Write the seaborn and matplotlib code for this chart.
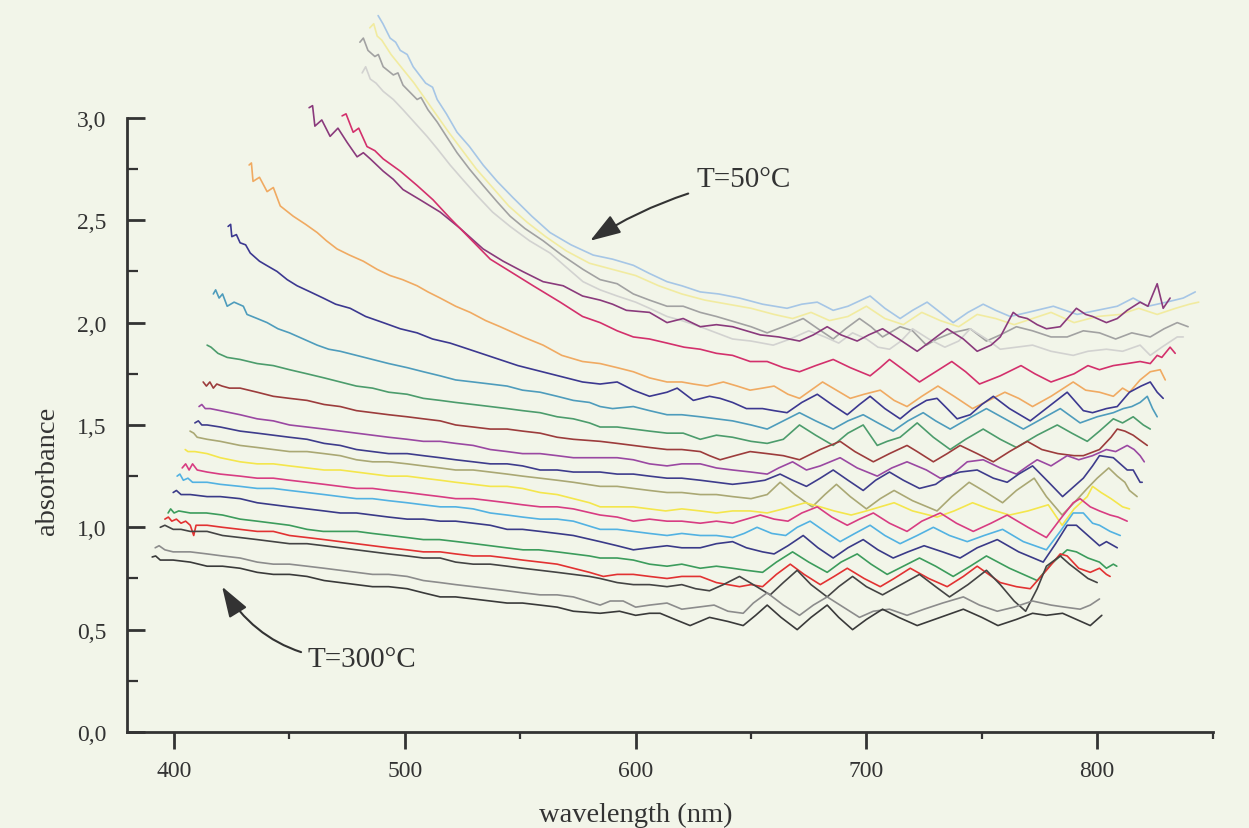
import pandas as pd
import matplotlib
matplotlib.use("Agg")
import matplotlib.pyplot as plt
from matplotlib.ticker import FuncFormatter
import seaborn as sns

sns.set_style("ticks")
plt.rcParams["font.family"] = ["Liberation Serif", "DejaVu Serif"]

# spectra, (wavelength nm, absorbance), T=50°C at top -> T=300°C at bottom
t01 = [(488.4,3.50),(490.5,3.46),(493.6,3.39),(496,3.37),(498,3.33),(501,3.31),(503.6,3.25),(509,3.17),
       (512,3.15),(514,3.09),(518,3.02),(522.6,2.93),(528,2.86),(533.9,2.77),(540,2.69),(546.9,2.61),
       (555,2.52),(562.9,2.44),(572,2.38),(581.6,2.33),(590,2.31),(599,2.28),(606,2.24),(613.6,2.20),
       (620,2.18),(628,2.15),(636,2.14),(645,2.12),(655,2.09),(665.6,2.07),(672,2.09),(678.7,2.10),
       (685.6,2.06),(692,2.08),(701.6,2.13),(708,2.07),(714.6,2.02),(720,2.06),(726.3,2.10),(732,2.05),
       (737.6,2.00),(744,2.05),(750.6,2.09),(756,2.06),(762.3,2.03),(770,2.05),(781,2.08),(791.3,2.04),
       (800,2.06),(808.7,2.08),(815.6,2.12),(822,2.08),(830,2.10),(837.3,2.12),(842.5,2.15)]
t02 = [(484.8,3.44),(486.5,3.46),(488,3.40),(490,3.38),(494,3.31),(499,3.24),(504,3.17),(509,3.09),(514,3.01),
       (519,2.93),(525,2.84),(531,2.75),(538,2.66),(545,2.57),(553,2.49),(561,2.42),(570,2.35),(580,2.29),
       (590,2.26),(600,2.23),(610,2.18),(620,2.14),(630,2.11),(640,2.09),(650,2.07),(660,2.04),(668,2.02),
       (676,2.05),(684,2.01),(692,2.03),(700,2.08),(708,2.02),(716,1.99),(724,2.05),(732,2.01),(740,1.98),
       (748,2.04),(756,2.02),(764,1.99),(772,2.02),(780,2.05),(790,2.00),(800,2.03),(810,2.04),(818,2.07),
       (826,2.04),(834,2.07),(840,2.09),(844,2.10)]
t03 = [(480.5,3.37),(482,3.39),(484,3.33),(487,3.30),(488.5,3.31),(490.6,3.25),(495,3.21),(497,3.22),
       (499.2,3.16),(505.3,3.09),(507,3.10),(510,3.04),(514,2.98),(518,2.91),(522.6,2.83),(528,2.75),
       (533.9,2.67),(540,2.59),(545.6,2.52),(552,2.46),(559.9,2.40),(568,2.33),(577.2,2.26),(584.6,2.21),
       (592,2.19),(599,2.14),(606,2.11),(613.6,2.08),(620.6,2.08),(628,2.05),(635,2.03),(644,2.00),(650,1.98),
       (657,1.95),(664,1.98),(672.6,2.02),(679,1.97),(685.6,1.92),(691,1.97),(697,2.02),(702,1.98),(707,1.93),
       (714.6,1.98),(720,1.96),(726,1.89),(730.6,1.92),(737,1.95),(745,1.97),(752,1.91),(758,1.94),(765,1.98),
       (772,1.96),(780,1.93),(787,1.93),(794,1.96),(801,1.95),(808,1.92),(815,1.95),(823,1.93),(829,1.97),
       (834.7,2.00),(839.4,1.98)]
t04 = [(481.5,3.22),(483,3.25),(485,3.19),(487.5,3.17),(490.6,3.13),(495,3.09),(499.2,3.04),(504,2.98),
       (509.6,2.91),(514,2.85),(519.6,2.77),(525,2.70),(531.3,2.62),(538,2.54),(545.6,2.47),(554,2.40),
       (562.9,2.34),(570,2.27),(577.2,2.20),(584.6,2.16),(592,2.13),(600,2.10),(606,2.07),(613.6,2.03),
       (620,2.01),(628,1.98),(635,1.95),(642,1.92),(650,1.91),(659.6,1.89),(667,1.92),(675,1.96),(682,1.93),
       (688,1.90),(694,1.95),(700,1.92),(705,1.88),(710,1.87),(715,1.91),(720,1.97),(727,1.92),(734,1.88),
       (740,1.91),(745,1.97),(752,1.92),(758,1.87),(765,1.88),(772,1.89),(780,1.86),(789.6,1.84),(796,1.86),
       (804,1.87),(811,1.86),(818.6,1.89),(823,1.84),(828,1.88),(834.7,1.93),(837.3,1.93)]
t05 = [(458.5,3.05),(460,3.06),(461,2.96),(464,2.99),(467.6,2.91),(471,2.95),(475,2.88),(479.3,2.81),
       (482,2.83),(485,2.80),(490.6,2.74),(495,2.70),(499.2,2.65),(506.6,2.60),(515.3,2.54),(524,2.46),
       (533.9,2.36),(542.6,2.30),(551,2.25),(559.9,2.20),(568.6,2.18),(577,2.13),(584.6,2.11),(590,2.09),
       (596,2.06),(606,2.05),(613.6,2.00),(620.6,2.02),(628,1.98),(635,1.99),(642,1.98),(648,1.96),(654,1.94),
       (662,1.93),(671,1.91),(677,1.94),(683,1.98),(689,1.94),(696,1.91),(701,1.94),(707,1.97),(714,1.92),
       (722,1.86),(728,1.91),(735,1.97),(742,1.92),(748,1.86),(754,1.89),(758,1.93),(763.6,2.05),(766,2.03),
       (769.7,2.02),(774,1.99),(778,1.97),(784,1.98),(791,2.07),(795,2.04),(798,2.03),(804,2.00),(808.7,2.02),
       (813,2.06),(818.6,2.10),(822,2.08),(826,2.19),(828.6,2.07),(831.6,2.12)]
t06 = [(472.8,3.01),(474.5,3.02),(477.6,2.93),(480,2.95),(483.6,2.86),(487,2.84),(490.6,2.80),(498,2.74),
       (505.3,2.67),(512.2,2.60),(519.6,2.51),(528.3,2.41),(537,2.31),(545.6,2.25),(555.6,2.18),(567.3,2.10),
       (577,2.03),(584.6,2.00),(592,1.96),(599,1.93),(606,1.92),(613.6,1.90),(621,1.88),(628,1.87),(635,1.85),
       (642,1.84),(649.6,1.81),(657,1.81),(664,1.78),(671,1.76),(678,1.79),(685.6,1.82),(693,1.78),
       (701.6,1.74),(706,1.78),(710,1.82),(716,1.77),(723,1.71),(730,1.76),(737,1.81),(743,1.76),(749,1.70),
       (758,1.74),(767,1.79),(773,1.75),(780,1.71),(785,1.73),(790,1.75),(796,1.79),(801,1.77),(807,1.79),
       (813,1.80),(818.6,1.81),(823,1.80),(826,1.84),(828,1.83),(831.6,1.88),(833.8,1.85)]
t07 = [(432.5,2.77),(433.5,2.78),(434.2,2.69),(437,2.71),(440.3,2.64),(443,2.66),(446,2.57),(451.6,2.52),
       (457,2.48),(462,2.44),(466,2.40),(470.6,2.36),(476,2.33),(482,2.30),(488,2.26),(493.6,2.23),(499,2.21),
       (505.3,2.18),(510,2.15),(515.3,2.12),(522,2.08),(528.3,2.05),(535,2.01),(541.3,1.98),(551.2,1.93),
       (559.9,1.89),(568,1.84),(577,1.81),(584.6,1.80),(592,1.78),(599,1.76),(606,1.73),(613.6,1.71),
       (620,1.71),(625,1.70),(631,1.69),(638,1.71),(644,1.69),(649.6,1.67),(655,1.68),(660,1.69),(666,1.65),
       (671,1.63),(676,1.67),(681,1.71),(687,1.67),(693,1.63),(699,1.65),(706,1.67),(712,1.62),(717.6,1.59),
       (724,1.64),(731,1.69),(738,1.64),(746,1.58),(753,1.62),(760,1.66),(766,1.63),(772,1.59),(780,1.64),
       (789.6,1.71),(795,1.67),(801,1.66),(807,1.64),(811,1.68),(814,1.66),(818.6,1.72),(823,1.76),
       (827.3,1.77),(829.5,1.72)]
t08 = [(423.4,2.47),(424.5,2.48),(425,2.42),(427,2.43),(428.6,2.39),(431,2.38),(433,2.34),(437,2.30),
       (440,2.28),(444.6,2.25),(449,2.21),(453.3,2.18),(459,2.15),(464.6,2.12),(470,2.09),(476.3,2.07),
       (483,2.03),(490.6,2.00),(498,1.97),(505.3,1.95),(512,1.92),(519.6,1.90),(525,1.88),(533,1.85),
       (541,1.82),(549,1.79),(556,1.77),(563,1.75),(570,1.73),(577,1.71),(584.6,1.70),(592,1.71),(599,1.67),
       (606,1.64),(613.6,1.66),(618,1.68),(625,1.62),(632,1.64),(636.6,1.63),(642,1.61),(648,1.58),(655,1.58),
       (660,1.57),(665.6,1.56),(672,1.61),(678.7,1.65),(685,1.60),(691.7,1.55),(697,1.60),(701.6,1.64),
       (708,1.58),(714.6,1.53),(720,1.58),(726,1.62),(730.6,1.63),(735,1.58),(739.3,1.53),(745,1.55),
       (750,1.60),(755,1.64),(762,1.58),(771,1.52),(779,1.59),(787,1.66),(794,1.57),(798,1.56),(804,1.58),
       (808.7,1.59),(814,1.66),(819,1.69),(823,1.71),(826,1.66),(828.6,1.63)]
t09 = [(417,2.14),(418,2.16),(419.5,2.12),(421,2.14),(423,2.08),(426,2.10),(430,2.08),(431.6,2.04),(436,2.02),
       (440.3,2.00),(445,1.97),(450,1.95),(456,1.92),(462,1.89),(467,1.87),(472,1.86),(479,1.84),(486,1.82),
       (493,1.80),(501,1.78),(508,1.76),(515.3,1.74),(522,1.72),(529.6,1.71),(537,1.70),(544.3,1.69),
       (551,1.67),(558.6,1.66),(566,1.64),(573,1.62),(580,1.61),(584.6,1.59),(590,1.58),(599,1.59),(606,1.57),
       (613.6,1.55),(620,1.55),(628,1.54),(635,1.53),(642,1.52),(650,1.50),(657,1.48),(664,1.52),(671,1.56),
       (678,1.52),(685.6,1.48),(692,1.52),(698.6,1.55),(705,1.51),(711.6,1.47),(718,1.52),(724.6,1.56),
       (730,1.52),(736.3,1.48),(744,1.53),(752,1.58),(760,1.53),(768,1.48),(776,1.53),(784,1.58),(792.6,1.51),
       (800,1.54),(807,1.56),(811.3,1.58),(815,1.59),(818.6,1.61),(821.7,1.64),(824,1.58),(826,1.54)]
t10 = [(414.3,1.89),(416,1.88),(419,1.85),(423,1.83),(428.6,1.82),(436,1.80),(443,1.79),(450,1.77),
       (457.6,1.75),(465,1.73),(472,1.71),(479,1.69),(486,1.68),(493,1.66),(501,1.65),(508,1.63),(515.3,1.62),
       (522,1.61),(529.6,1.60),(537,1.59),(544.3,1.58),(551,1.57),(558.6,1.56),(566,1.54),(573,1.53),
       (580,1.51),(584.6,1.49),(592,1.49),(599,1.48),(606,1.47),(613.6,1.46),(620.6,1.46),(628,1.43),
       (635,1.45),(642,1.44),(650,1.42),(657,1.41),(664,1.43),(671,1.50),(678,1.45),(685.6,1.40),(692,1.46),
       (698.6,1.50),(704.7,1.40),(709,1.42),(714.6,1.44),(722,1.51),(729,1.44),(736.3,1.38),(743,1.43),
       (750.6,1.48),(758,1.43),(765,1.39),(774,1.45),(782.7,1.50),(789,1.46),(795.7,1.42),(801,1.47),
       (807,1.53),(811,1.51),(815.6,1.54),(820,1.50),(823,1.48)]
t11 = [(412.6,1.71),(414,1.69),(415.5,1.71),(417,1.68),(418.5,1.70),(420.8,1.69),(424,1.68),(428.6,1.68),
       (436,1.66),(443,1.64),(450,1.63),(457.6,1.62),(465,1.60),(472,1.59),(479,1.57),(486,1.56),(493,1.55),
       (501,1.54),(508,1.53),(515.3,1.52),(522,1.50),(529.6,1.49),(537,1.48),(544.3,1.48),(551,1.47),
       (558.6,1.46),(566,1.44),(573,1.43),(584.6,1.42),(592,1.41),(599,1.40),(606,1.39),(613.6,1.38),
       (620,1.38),(628,1.37),(632,1.35),(636.6,1.33),(643,1.35),(649.6,1.37),(657,1.36),(664,1.35),(671,1.33),
       (680,1.38),(688.6,1.42),(695,1.37),(703,1.32),(710,1.36),(717.6,1.40),(722,1.37),(729,1.32),(735,1.36),
       (740.6,1.40),(748,1.36),(755,1.32),(762,1.37),(769.7,1.42),(776,1.38),(783,1.36),(790,1.35),(794,1.35),
       (801,1.38),(806,1.44),(808.7,1.48),(812,1.47),(815.6,1.45),(818,1.43),(821.7,1.40)]
t12 = [(410.8,1.59),(412,1.60),(413.5,1.58),(415.6,1.58),(420,1.57),(428.6,1.55),(436,1.53),(443,1.52),
       (450,1.50),(457.6,1.49),(465,1.48),(472,1.47),(479,1.46),(486,1.45),(493,1.44),(501,1.43),(508,1.42),
       (515.3,1.42),(522,1.41),(529.6,1.40),(537,1.38),(544.3,1.37),(551,1.36),(558.6,1.36),(566,1.35),
       (573,1.34),(584.6,1.34),(592,1.34),(599,1.33),(606,1.31),(613.6,1.30),(620,1.31),(628,1.31),(635,1.29),
       (642,1.28),(650,1.27),(657,1.26),(662,1.29),(668,1.32),(674,1.28),(680,1.30),(688.6,1.34),(696,1.29),
       (704.7,1.25),(711,1.29),(717.6,1.32),(726,1.28),(732,1.24),(736.3,1.25),(743.7,1.32),(750.6,1.33),
       (758,1.29),(765,1.26),(770,1.30),(774,1.33),(780,1.30),(787,1.35),(792,1.33),(798,1.35),(804,1.38),
       (808,1.37),(813,1.40),(816,1.38),(818.6,1.35),(820.4,1.32)]
t13 = [(409,1.51),(410.5,1.52),(412,1.50),(414.3,1.50),(420,1.49),(428.6,1.47),(436,1.46),(443,1.45),
       (450,1.44),(457.6,1.43),(465,1.41),(472,1.40),(479,1.38),(486,1.37),(493,1.36),(501,1.36),(508,1.35),
       (515.3,1.34),(522,1.33),(529.6,1.32),(537,1.31),(544.3,1.31),(551,1.30),(558.6,1.28),(566,1.28),
       (573,1.27),(584.6,1.27),(592,1.26),(599,1.26),(606,1.25),(613.6,1.24),(620,1.24),(628,1.23),(635,1.22),
       (642,1.21),(650,1.22),(656,1.23),(662.6,1.26),(668,1.23),(674,1.20),(680,1.24),(685.6,1.28),(692,1.23),
       (698.6,1.18),(704,1.23),(710,1.27),(716,1.23),(723,1.19),(730,1.21),(735,1.25),(740.6,1.27),(748,1.28),
       (755,1.24),(761,1.22),(766,1.26),(772,1.30),(779,1.22),(785,1.15),(790,1.20),(794,1.24),(798,1.30),
       (801,1.35),(807,1.34),(810,1.31),(813,1.28),(815.6,1.28),(818.6,1.22),(819.5,1.22)]
t14 = [(406.9,1.47),(408.5,1.46),(410,1.44),(414.3,1.43),(420,1.42),(428.6,1.40),(436,1.39),(443,1.38),
       (450,1.37),(457.6,1.37),(465,1.36),(472,1.35),(479,1.33),(486,1.32),(493,1.32),(501,1.31),(508,1.30),
       (515.3,1.29),(522,1.28),(529.6,1.28),(537,1.27),(544.3,1.26),(551,1.25),(558.6,1.24),(566,1.23),
       (573,1.22),(584.6,1.20),(592,1.20),(599,1.19),(606,1.18),(613.6,1.17),(620,1.17),(628,1.16),(635,1.16),
       (642,1.15),(650,1.14),(657,1.16),(662.6,1.22),(669,1.16),(676.5,1.10),(682,1.16),(687,1.21),(693,1.15),
       (700,1.09),(706,1.14),(712,1.18),(720,1.13),(730.6,1.08),(737,1.15),(744.5,1.22),(752,1.17),(759,1.12),
       (765,1.18),(772.7,1.24),(778,1.15),(784.8,1.06),(790,1.12),(795.7,1.19),(800,1.24),(805,1.29),
       (808.7,1.25),(812,1.22),(814,1.18),(817.3,1.15)]
t15 = [(404.8,1.38),(406,1.37),(409,1.37),(414.3,1.36),(420,1.34),(428.6,1.32),(436,1.31),(443,1.31),
       (450,1.30),(457.6,1.29),(465,1.28),(472,1.28),(479,1.27),(486,1.26),(493,1.25),(501,1.25),(508,1.24),
       (515.3,1.23),(522,1.22),(529.6,1.21),(537,1.20),(544.3,1.20),(551,1.19),(558.6,1.17),(566,1.16),
       (573,1.14),(580,1.12),(584.6,1.10),(592,1.10),(599,1.10),(606,1.09),(613,1.08),(620,1.09),(628,1.08),
       (635,1.07),(642,1.08),(649.6,1.08),(657,1.07),(664,1.09),(673.5,1.12),(680,1.10),(686,1.08),
       (693.4,1.06),(700,1.08),(706,1.10),(712,1.12),(720,1.08),(730.6,1.05),(738,1.08),(746,1.12),(753,1.09),
       (762,1.06),(770,1.08),(778.8,1.11),(784.8,1.01),(790,1.09),(795.7,1.15),(798,1.20),(801.7,1.17),
       (806,1.14),(811,1.10),(814,1.09)]
t16 = [(403.5,1.29),(405,1.31),(406.5,1.28),(408,1.31),(410,1.28),(414.3,1.27),(420,1.26),(428.6,1.25),
       (436,1.24),(443,1.24),(450,1.23),(457.6,1.22),(465,1.21),(472,1.20),(479,1.19),(486,1.19),(493,1.18),
       (501,1.17),(508,1.16),(515.3,1.15),(522,1.14),(529.6,1.14),(537,1.13),(544.3,1.12),(551,1.11),
       (558.6,1.10),(566,1.10),(573,1.09),(584.6,1.06),(592,1.05),(599,1.03),(606,1.04),(613.6,1.03),
       (620,1.03),(628,1.02),(635,1.03),(642,1.02),(648,1.04),(654,1.06),(660,1.04),(666,1.03),(672,1.07),
       (678.7,1.10),(685,1.05),(691.7,1.01),(697,1.04),(703,1.07),(710,1.02),(717.6,0.98),(724,1.03),
       (732,1.07),(739,1.02),(746.3,0.98),(754,1.02),(761,1.06),(770,1.00),(778,0.95),(784,1.04),(789.6,1.12),
       (792.6,1.14),(797,1.10),(801,1.08),(805.6,1.06),(809,1.05),(813,1.03)]
t17 = [(401.3,1.25),(402.5,1.26),(404,1.23),(406,1.24),(408,1.22),(414.3,1.22),(420,1.21),(428.6,1.20),
       (436,1.19),(443,1.19),(450,1.18),(457.6,1.17),(465,1.16),(472,1.15),(479,1.14),(486,1.14),(493,1.13),
       (501,1.12),(508,1.11),(515.3,1.10),(522,1.10),(529.6,1.09),(537,1.07),(544.3,1.06),(551,1.05),
       (558.6,1.04),(566,1.04),(573,1.03),(584.6,0.99),(592,0.99),(599,0.98),(606,0.97),(613.6,0.96),
       (620,0.97),(628,0.96),(635,0.96),(642,0.95),(647,0.97),(652.6,1.00),(659,0.97),(665,0.96),(670,1.00),
       (675.6,1.03),(682,0.98),(688.6,0.93),(695,0.97),(701.6,1.01),(708,0.96),(714.6,0.92),(722,0.96),
       (729,1.00),(736,0.96),(743.7,0.93),(751,0.96),(759,0.99),(768,0.93),(778,0.89),(784,0.98),(789.6,1.07),
       (794,1.07),(798,1.02),(801,1.01),(805.6,0.98),(810,0.96)]
t18 = [(399.6,1.17),(401,1.18),(403,1.16),(407,1.16),(414.3,1.15),(420,1.15),(428.6,1.14),(436,1.12),
       (443,1.11),(450,1.10),(457.6,1.09),(465,1.08),(472,1.07),(479,1.07),(486,1.06),(493,1.05),(501,1.04),
       (508,1.04),(515.3,1.03),(522,1.03),(529.6,1.02),(537,1.01),(544.3,0.99),(551,0.99),(558.6,0.98),
       (566,0.97),(573,0.96),(584.6,0.93),(592,0.91),(599,0.89),(606,0.90),(613.6,0.91),(620,0.90),(628,0.90),
       (635,0.92),(642,0.93),(648,0.90),(655,0.88),(660,0.87),(666,0.91),(672.6,0.96),(679,0.90),(685.6,0.85),
       (692,0.90),(698.6,0.94),(705,0.89),(711.6,0.85),(718,0.88),(725,0.91),(733,0.88),(740.6,0.85),
       (748,0.90),(756.7,0.94),(766,0.88),(776.6,0.83),(782,0.92),(787,1.01),(791,1.01),(796,0.96),(801,0.91),
       (804,0.93),(808.7,0.90)]
t19 = [(397.4,1.07),(398.5,1.09),(400,1.07),(402,1.08),(407,1.07),(414,1.07),(421,1.06),(428.6,1.04),
       (436,1.03),(443,1.02),(450,1.01),(457.6,0.99),(464.6,0.98),(472,0.98),(479.3,0.98),(486,0.97),
       (493.6,0.96),(501,0.95),(508,0.94),(515,0.94),(522.6,0.93),(530,0.92),(537,0.91),(544,0.90),
       (551.2,0.89),(558,0.89),(566,0.88),(573,0.87),(580,0.86),(584.6,0.85),(592,0.85),(599,0.84),(606,0.82),
       (613.6,0.81),(620,0.82),(628,0.80),(635,0.81),(642,0.80),(648,0.79),(655,0.78),(661,0.83),(668,0.88),
       (675,0.83),(683,0.78),(689,0.83),(696,0.87),(702,0.82),(709,0.77),(716,0.81),(723,0.85),(730,0.81),
       (737.6,0.76),(745,0.81),(752,0.86),(762,0.80),(774,0.74),(780,0.82),(787,0.89),(791,0.88),(796,0.85),
       (801,0.83),(804,0.80),(807,0.82),(808.5,0.81)]
t20 = [(396,1.04),(397.5,1.05),(399,1.03),(401,1.04),(403,1.02),(405,1.03),(407,1.01),(408.5,0.96),
       (409.5,1.01),(411,1.01),(414.3,1.01),(421,1.00),(428.6,0.99),(436,0.98),(443,0.98),(450,0.96),
       (457.6,0.95),(465,0.94),(472,0.93),(479,0.92),(486,0.91),(493,0.90),(501,0.89),(508,0.88),(515.3,0.88),
       (522,0.87),(529.6,0.86),(537,0.86),(544.3,0.85),(551,0.84),(558.6,0.83),(566,0.82),(573,0.80),
       (580,0.78),(586,0.76),(592,0.77),(599,0.77),(606,0.76),(613.6,0.75),(620,0.76),(628,0.76),(635,0.73),
       (645,0.71),(650,0.72),(655,0.71),(661,0.77),(667,0.82),(673,0.77),(680,0.72),(686,0.76),(691.7,0.80),
       (699,0.75),(706,0.71),(712,0.75),(719,0.80),(727,0.75),(735,0.71),(742,0.76),(748,0.81),(753,0.77),
       (758,0.73),(765,0.71),(771,0.70),(778,0.79),(784,0.87),(787,0.86),(792,0.80),(797,0.78),(801,0.80),
       (804,0.77),(805.6,0.76)]
t21 = [(394,1.00),(396,1.01),(399.6,0.99),(403,0.99),(407,0.98),(414.3,0.98),(421,0.96),(428.6,0.95),
       (436,0.94),(443,0.93),(450,0.92),(457.6,0.92),(465,0.91),(472,0.90),(479,0.89),(486,0.88),(493,0.87),
       (501,0.86),(508,0.85),(515.3,0.85),(522,0.83),(529.6,0.82),(537,0.82),(544.3,0.81),(551,0.80),
       (558.6,0.79),(566,0.78),(573,0.77),(580,0.76),(584.6,0.75),(592,0.73),(599,0.72),(606,0.72),
       (613.6,0.71),(620,0.72),(626,0.70),(632,0.69),(638,0.72),(645,0.76),(651,0.72),(658.3,0.67),(664,0.73),
       (670,0.79),(676,0.72),(683,0.66),(688,0.71),(694,0.76),(700,0.71),(707,0.67),(715,0.72),(723,0.77),
       (730,0.71),(736,0.66),(744,0.72),(752,0.79),(758,0.72),(764,0.64),(769,0.59),(774,0.70),(778,0.81),
       (784,0.86),(788,0.82),(792.6,0.78),(796,0.75),(800,0.73)]
t22 = [(391.8,0.90),(393.5,0.91),(396,0.89),(399.6,0.88),(407,0.88),(414.3,0.87),(421,0.86),(428.6,0.85),
       (436,0.83),(443,0.82),(450,0.82),(457.6,0.81),(465,0.80),(472,0.79),(479,0.78),(486,0.77),(493,0.77),
       (501,0.76),(508,0.74),(515.3,0.73),(522,0.72),(529.6,0.71),(537,0.70),(544.3,0.69),(551,0.68),
       (558.6,0.67),(566,0.67),(573,0.66),(584.6,0.62),(589,0.64),(594.6,0.64),(600,0.61),(606,0.62),
       (613.6,0.63),(620,0.60),(627,0.61),(634,0.62),(640,0.59),(646.6,0.58),(651,0.63),(657,0.68),(664,0.62),
       (671,0.57),(677,0.62),(683,0.66),(690,0.61),(697,0.56),(703,0.59),(710,0.60),(717.6,0.57),(725,0.60),
       (733,0.63),(742,0.66),(749,0.62),(756.7,0.59),(764,0.61),(772,0.64),(780,0.62),(786,0.61),(792.6,0.60),
       (797,0.62),(801,0.65)]
t23 = [(390.5,0.855),(392,0.86),(394,0.84),(399.6,0.84),(407,0.83),(414.3,0.81),(421,0.81),(428.6,0.80),
       (436,0.78),(443,0.77),(450,0.77),(457.6,0.76),(465,0.74),(472,0.73),(479,0.72),(486,0.71),(493,0.71),
       (501,0.70),(508,0.68),(515.3,0.66),(522,0.66),(529.6,0.65),(537,0.64),(544.3,0.63),(551,0.63),
       (558.6,0.62),(566,0.61),(573,0.59),(584.6,0.58),(593,0.59),(600,0.57),(606,0.58),(610.6,0.58),
       (617,0.55),(623.6,0.52),(632,0.56),(640,0.54),(646.6,0.52),(652,0.57),(657,0.62),(663,0.56),(670,0.50),
       (676,0.56),(683,0.62),(688,0.56),(694,0.50),(700,0.55),(707,0.60),(714,0.56),(722,0.52),(732,0.56),
       (742,0.60),(750,0.56),(757,0.52),(765,0.55),(772,0.58),(778,0.57),(785,0.58),(791,0.55),(797,0.52),
       (800,0.55),(802,0.57)]

spectra = [t01, t02, t03, t04, t05, t06, t07, t08, t09, t10, t11, t12,
           t13, t14, t15, t16, t17, t18, t19, t20, t21, t22, t23]
line_colors = ["#a6c6e6", "#f1eba0", "#a2a2a2", "#d2d2d0", "#8a3a7c", "#d3306c", "#f0aa62",
               "#3c3890", "#4e9cbc", "#4c9c6c", "#9c3c3c", "#9a48a2", "#3e3c8c", "#aaa874",
               "#f4e64c", "#d83c82", "#52b2e2", "#3a3a88", "#3c9c5c", "#e23232", "#444444",
               "#8c8c8c", "#3a3a3a"]
x_ticks = [400, 500, 600, 700, 800]
y_ticks = [0.0, 0.5, 1.0, 1.5, 2.0, 2.5, 3.0]

frames = []
for i, s in enumerate(spectra):
    d = pd.DataFrame(s, columns=["wavelength", "absorbance"])
    d["curve"] = f"c{i+1:02d}"
    frames.append(d)
df = pd.concat(frames, ignore_index=True)
palette = {f"c{i+1:02d}": c for i, c in enumerate(line_colors)}

bg = "#f2f5e9"
ink = "#333333"
fig = plt.figure(figsize=(12.49, 8.29), dpi=100, facecolor=bg)
ax = fig.add_axes([0.1017, 0.1158, 0.8695, 0.8842])
ax.set_facecolor(bg)

sns.lineplot(data=df, x="wavelength", y="absorbance", hue="curve", palette=palette,
             estimator=None, sort=False, legend=False, linewidth=1.2, ax=ax)

ax.set_xlim(379.6, 850.2)
ax.set_ylim(0, 3.581)
for side in ["top", "right"]:
    ax.spines[side].set_visible(False)
ax.spines["left"].set_bounds(0, 3.0)
for side in ["left", "bottom"]:
    ax.spines[side].set_linewidth(2.0)
    ax.spines[side].set_color(ink)

ax.set_xticks(x_ticks)
ax.set_xticks([450, 550, 650, 750, 850], minor=True)
ax.set_yticks(y_ticks)
ax.set_yticks([0.25, 0.75, 1.25, 1.75, 2.25, 2.75], minor=True)
ax.yaxis.set_major_formatter(FuncFormatter(lambda v, p: f"{v:.1f}".replace(".", ",")))

ax.tick_params(axis="y", which="major", direction="in", length=13, width=2.0, pad=15,
               labelsize=17, colors=ink)
ax.tick_params(axis="y", which="minor", direction="in", length=8, width=1.6, colors=ink)
ax.tick_params(axis="x", which="major", direction="out", length=12, width=2.0, pad=8,
               labelsize=17, colors=ink)
ax.tick_params(axis="x", which="minor", direction="out", length=5, width=1.6, colors=ink)

ax.set_xlabel("wavelength (nm)", fontsize=20.5, color=ink)
ax.xaxis.label.set_va("center")
ax.xaxis.set_label_coords(0.468, -0.112)
ax.set_ylabel("absorbance", fontsize=20.5, color=ink)
ax.yaxis.set_label_coords(-0.062, 0.357)

ax.annotate("T=50°C", xy=(580.3, 2.40), xytext=(626.5, 2.70), fontsize=21, color=ink,
            ha="left", va="center",
            arrowprops=dict(arrowstyle="-|>,head_length=0.9,head_width=0.3", color=ink, lw=1.5,
                            connectionstyle="arc3,rad=0.1", shrinkA=4, shrinkB=0))
ax.annotate("T=300°C", xy=(420.8, 0.71), xytext=(457.6, 0.357), fontsize=21, color=ink,
            ha="left", va="center",
            arrowprops=dict(arrowstyle="-|>,head_length=0.9,head_width=0.3", color=ink, lw=1.5,
                            connectionstyle="arc3,rad=-0.3", shrinkA=2, shrinkB=0))

fig.savefig("out.png", dpi=100, facecolor=bg)
plt.close(fig)
